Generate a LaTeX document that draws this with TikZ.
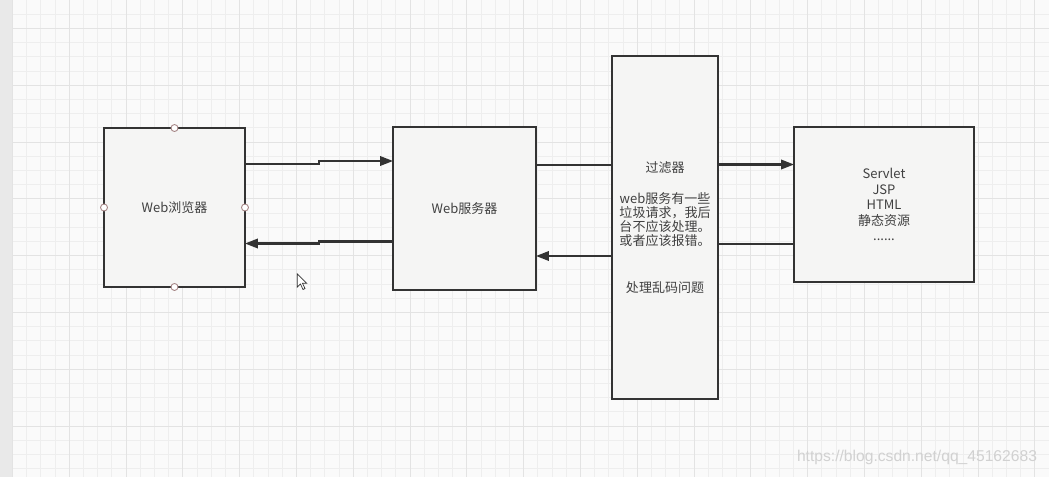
\documentclass[tikz,border=0pt]{standalone}
\usepackage{fontspec}
\setmainfont{Noto Sans CJK SC}
\newfontfamily\markfont{Liberation Sans}
\usetikzlibrary{arrows.meta,positioning,calc}
\definecolor{ink}{HTML}{333333}
\definecolor{txt}{HTML}{404040}
\definecolor{boxfill}{HTML}{F5F5F4}
\definecolor{paper}{HTML}{FAFAFA}
\definecolor{strip}{HTML}{E9E9E9}
\definecolor{gridminor}{HTML}{EEEEEE}
\definecolor{gridmajor}{HTML}{E3E3E3}
\definecolor{handlered}{HTML}{A58585}
\begin{document}
\begin{tikzpicture}[x=0.02cm, y=-0.02cm,
    box/.style={draw=ink, line width=1.2pt, fill=boxfill, inner sep=0pt, outer sep=0pt, align=center, text=txt, font=\fontsize{7.4}{8.05}\selectfont},
    arr/.style={-{Triangle[length=0.26cm, width=0.19cm]}, draw=ink, line width=1.2pt},
    ln/.style={draw=ink, line width=1.2pt},
    handle/.style={draw=handlered, fill=white, line width=0.5pt},
    minor/.style={draw=gridminor, line width=0.5pt},
    major/.style={draw=gridmajor, line width=0.55pt}
]
\useasboundingbox (0,0) rectangle (1049,477);
\fill[paper] (0,0) rectangle (1049,477);
\foreach \k in {0,...,72}
    \draw[minor] ({12.5+14.2*\k},0) -- ({12.5+14.2*\k},477);
\foreach \k in {-1,...,31}
    \draw[minor] (12,{28.5+14.2*\k}) -- (1049,{28.5+14.2*\k});
\foreach \k in {0,...,18}
    \draw[major] ({12.5+56.8*\k},0) -- ({12.5+56.8*\k},477);
\foreach \k in {0,...,7}
    \draw[major] (12,{28.5+56.8*\k}) -- (1049,{28.5+56.8*\k});
\fill[strip] (0,0) rectangle (12,477);
\draw[gridmajor] (12,0) -- (12,477);

\node[box, minimum width=2.82cm, minimum height=3.18cm] (browser) at (174.5,207.5) {Web浏览器};
\node[box, minimum width=2.86cm, minimum height=3.26cm] (server) at (464.5,208.5) {Web服务器};
\node[box, minimum width=2.12cm, minimum height=6.86cm] (filter) at (665,227.5)
    {过滤器\\[9.7pt]web服务有一些\\垃圾请求，我后\\台不应该处理。\\或者应该报错。\\[18.6pt]处理乱码问题};
\node[box, minimum width=3.6cm, minimum height=3.1cm, font=\fontsize{7.4}{8.8}\selectfont] (servlet) at (884,204.5)
    {Servlet\\JSP\\HTML\\静态资源\\......};

\foreach \a in {north,south,east,west}
    \draw[handle] (browser.\a) circle[radius=0.07cm];

\draw[arr] (browser.east |- 0,164) -- ++(74,0) |- (server.west |- 0,161);
\draw[arr] (server.west |- 0,241.5) -- ++(-74,0) |- (browser.east |- 0,243.5);
\draw[ln] (server.east |- 0,165) -- (filter.west |- 0,165);
\draw[arr] (filter.west |- 0,256) -- (server.east |- 0,256);
\draw[arr] (filter.east |- 0,164.5) -- (servlet.west |- 0,164.5);
\draw[ln] (servlet.west |- 0,244) -- (filter.east |- 0,244);

\draw[fill=white, draw=ink, line width=0.4pt] (297.3,274) -- (297.3,287) -- (300.5,284) -- (303,289.5) -- (305,288.5) -- (302.5,283.3) -- (306.7,283.3) -- cycle;

\node[font=\markfont\fontsize{8.9}{10}\selectfont, text=black!18] (mark) at (917,457) {https://blog.csdn.net/qq\_45162683};
\end{tikzpicture}
\end{document}
